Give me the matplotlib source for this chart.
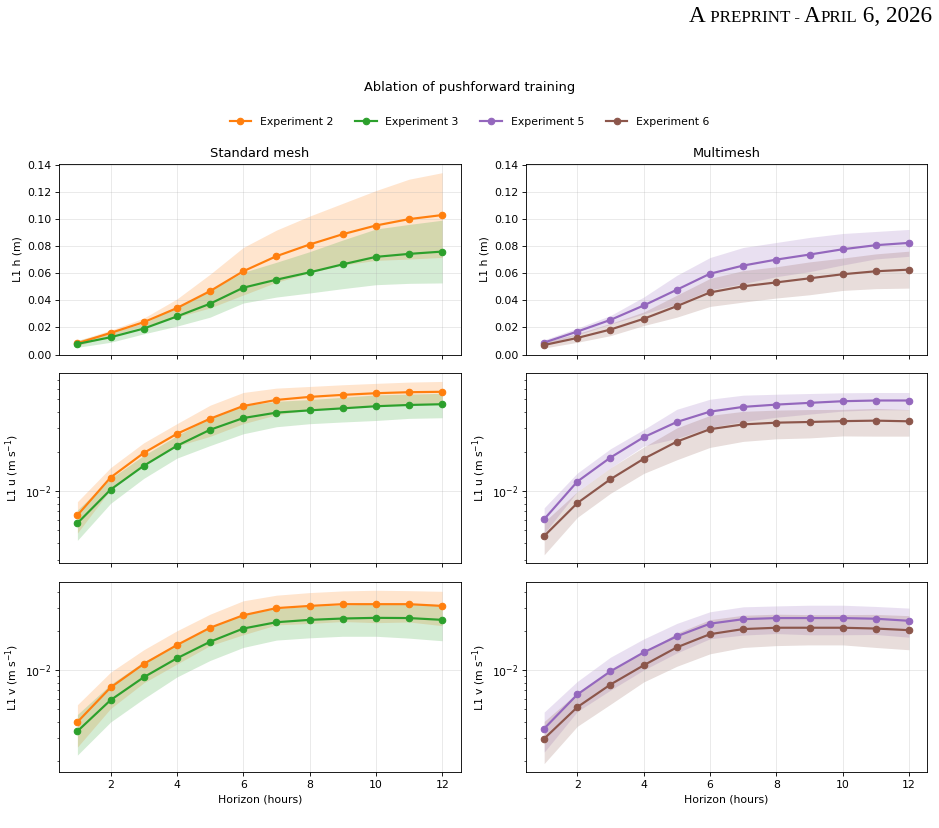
import numpy as np
import matplotlib
matplotlib.use("Agg")
import matplotlib.pyplot as plt
from matplotlib.ticker import MultipleLocator, FormatStrFormatter
from matplotlib.offsetbox import TextArea, HPacker, AnchoredOffsetbox

hours = np.arange(1, 13)

# L1 h (m)  -- mean and std per experiment
h_exp2 = [0.0084, 0.0160, 0.0239, 0.0343, 0.0468, 0.0614, 0.0725, 0.0811, 0.0887, 0.0951, 0.0998, 0.1028]
h_exp2_std = [0.0020, 0.0020, 0.0030, 0.0067, 0.0124, 0.0175, 0.0192, 0.0209, 0.0227, 0.0257, 0.0294, 0.0312]
h_exp3 = [0.0079, 0.0128, 0.0192, 0.0281, 0.0375, 0.0493, 0.0552, 0.0606, 0.0665, 0.0720, 0.0742, 0.0759]
h_exp3_std = [0.0025, 0.0037, 0.0039, 0.0071, 0.0099, 0.0113, 0.0128, 0.0152, 0.0179, 0.0205, 0.0217, 0.0231]
h_exp5 = [0.0089, 0.0170, 0.0256, 0.0362, 0.0478, 0.0596, 0.0656, 0.0700, 0.0737, 0.0776, 0.0806, 0.0823]
h_exp5_std = [0.0020, 0.0025, 0.0032, 0.0062, 0.0106, 0.0119, 0.0133, 0.0126, 0.0126, 0.0116, 0.0101, 0.0099]
h_exp6 = [0.0071, 0.0123, 0.0185, 0.0264, 0.0357, 0.0458, 0.0503, 0.0532, 0.0562, 0.0592, 0.0614, 0.0626]
h_exp6_std = [0.0022, 0.0032, 0.0045, 0.0050, 0.0081, 0.0103, 0.0116, 0.0115, 0.0121, 0.0119, 0.0128, 0.0136]

# L1 u (m/s)
u_exp2 = [0.00653, 0.01267, 0.0195, 0.0273, 0.0356, 0.0445, 0.0495, 0.0522, 0.0541, 0.0557, 0.0567, 0.0571]
u_exp2_std = [0.00175, 0.0024, 0.0038, 0.0053, 0.0095, 0.0119, 0.0114, 0.0105, 0.0105, 0.0105, 0.0110, 0.0114]
u_exp3 = [0.00568, 0.01024, 0.01557, 0.0221, 0.0293, 0.0360, 0.0396, 0.0412, 0.0427, 0.0443, 0.0453, 0.0459]
u_exp3_std = [0.00148, 0.0022, 0.0031, 0.0043, 0.0071, 0.0087, 0.0087, 0.0086, 0.0091, 0.0098, 0.0095, 0.0097]
u_exp5 = [0.00609, 0.0118, 0.0180, 0.0257, 0.0336, 0.0403, 0.0438, 0.0456, 0.0470, 0.0484, 0.0490, 0.0490]
u_exp5_std = [0.00135, 0.0019, 0.0030, 0.0037, 0.0084, 0.0098, 0.0100, 0.0091, 0.0084, 0.0077, 0.0074, 0.0074]
u_exp6 = [0.00453, 0.00809, 0.0123, 0.0176, 0.0238, 0.0296, 0.0322, 0.0332, 0.0336, 0.0341, 0.0344, 0.0340]
u_exp6_std = [0.00127, 0.0018, 0.0027, 0.0040, 0.0065, 0.0081, 0.0083, 0.0082, 0.0082, 0.0078, 0.0082, 0.0078]

# L1 v (m/s)
v_exp2 = [0.00398, 0.00736, 0.01119, 0.01566, 0.0213, 0.0266, 0.0302, 0.0314, 0.0324, 0.0324, 0.0324, 0.0314]
v_exp2_std = [0.00143, 0.0023, 0.0032, 0.0045, 0.0058, 0.0078, 0.0078, 0.0084, 0.0086, 0.0091, 0.0088, 0.0093]
v_exp3 = [0.00338, 0.00588, 0.00883, 0.01237, 0.0166, 0.0210, 0.0235, 0.0245, 0.0251, 0.0254, 0.0253, 0.0245]
v_exp3_std = [0.00117, 0.0019, 0.0028, 0.0035, 0.0047, 0.0060, 0.0064, 0.0067, 0.0068, 0.0071, 0.0076, 0.0076]
v_exp5 = [0.00354, 0.0065, 0.00982, 0.01374, 0.0183, 0.0229, 0.0248, 0.0253, 0.0253, 0.0253, 0.0250, 0.0241]
v_exp5_std = [0.00121, 0.0017, 0.0028, 0.0037, 0.0047, 0.0054, 0.0061, 0.0061, 0.0065, 0.0065, 0.0061, 0.0061]
v_exp6 = [0.00296, 0.00519, 0.00776, 0.01092, 0.01503, 0.0190, 0.0208, 0.0213, 0.0213, 0.0213, 0.0210, 0.0204]
v_exp6_std = [0.00106, 0.0015, 0.0023, 0.0028, 0.0043, 0.0056, 0.0058, 0.0058, 0.0056, 0.0056, 0.0060, 0.0060]

colors = {"Experiment 2": "tab:orange", "Experiment 3": "tab:green",
          "Experiment 5": "tab:purple", "Experiment 6": "tab:brown"}

left_data = [
    [("Experiment 2", h_exp2, h_exp2_std), ("Experiment 3", h_exp3, h_exp3_std)],
    [("Experiment 2", u_exp2, u_exp2_std), ("Experiment 3", u_exp3, u_exp3_std)],
    [("Experiment 2", v_exp2, v_exp2_std), ("Experiment 3", v_exp3, v_exp3_std)],
]
right_data = [
    [("Experiment 5", h_exp5, h_exp5_std), ("Experiment 6", h_exp6, h_exp6_std)],
    [("Experiment 5", u_exp5, u_exp5_std), ("Experiment 6", u_exp6, u_exp6_std)],
    [("Experiment 5", v_exp5, v_exp5_std), ("Experiment 6", v_exp6, v_exp6_std)],
]
ylabels = ["L1 h (m)", "L1 u (m s$^{-1}$)", "L1 v (m s$^{-1}$)"]

DPI = 78
fig, axes = plt.subplots(3, 2, figsize=(939 / DPI, 828 / DPI), dpi=DPI, sharex=True, sharey="row")
fig.subplots_adjust(left=0.063, right=0.9875, top=0.802, bottom=0.0673,
                    hspace=0.095, wspace=0.163)

handles = {}
for col, data in enumerate([left_data, right_data]):
    for row in range(3):
        ax = axes[row, col]
        for name, mean, std in data[row]:
            mean = np.array(mean)
            std = np.array(std)
            c = colors[name]
            ax.fill_between(hours, mean - std, mean + std, color=c, alpha=0.2, linewidth=0)
            line, = ax.plot(hours, mean, marker="o", markersize=6, linewidth=2, color=c, label=name)
            handles[name] = line
        if row > 0:
            ax.set_yscale("log")
        ax.set_ylabel(ylabels[row])
        ax.tick_params(labelleft=True)
        ax.grid(alpha=0.3)
        if row == 2:
            ax.set_xlabel("Horizon (hours)")
    axes[0, col].set_ylim(bottom=0)
    axes[0, col].yaxis.set_major_locator(MultipleLocator(0.02))
    axes[0, col].yaxis.set_major_formatter(FormatStrFormatter("%.2f"))

axes[0, 0].set_title("Standard mesh")
axes[0, 1].set_title("Multimesh")

fig.suptitle("Ablation of pushforward training", y=0.902)
fig.legend([handles[k] for k in colors], list(colors), loc="center", ncol=4,
           bbox_to_anchor=(0.5, 0.853), frameon=False)

# page header
scale = 100 / DPI * 1.11
parts = [("A", 15), (" PREPRINT - ", 11), ("A", 15), ("PRIL", 11), (" 6, 2026", 15)]
boxes = [TextArea(t, textprops=dict(fontsize=s * scale, family="Liberation Serif", color="black"))
         for t, s in parts]
header = HPacker(children=boxes, align="baseline", pad=0, sep=0)
anchored = AnchoredOffsetbox(loc="upper right", child=header, pad=0, frameon=False,
                             bbox_to_anchor=(0.993, 0.993), bbox_transform=fig.transFigure,
                             borderpad=0)
fig.add_artist(anchored)

fig.savefig("out.png", dpi=DPI)
